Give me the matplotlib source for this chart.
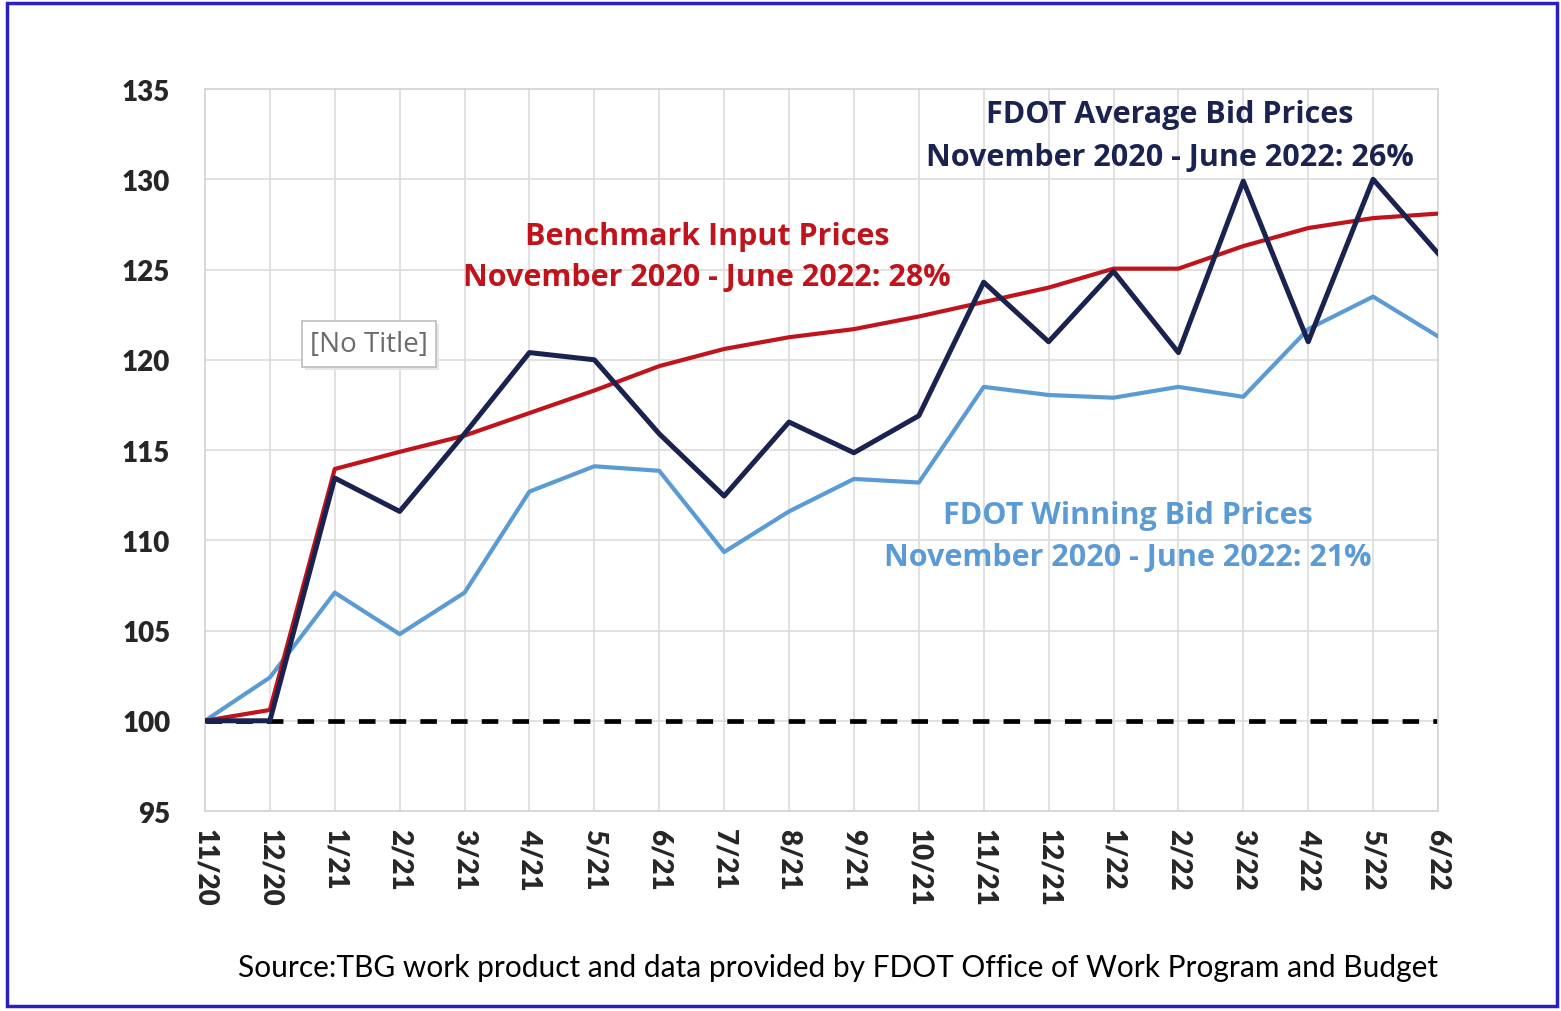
import matplotlib
matplotlib.use("Agg")
import matplotlib.pyplot as plt
from matplotlib.patches import Rectangle

months = ["11/20", "12/20", "1/21", "2/21", "3/21", "4/21", "5/21", "6/21", "7/21", "8/21",
          "9/21", "10/21", "11/21", "12/21", "1/22", "2/22", "3/22", "4/22", "5/22", "6/22"]
avg_bid = [100, 100, 113.45, 111.6, 115.9, 120.4, 120.0, 115.9, 112.45, 116.55,
           114.85, 116.9, 124.3, 121.0, 124.9, 120.4, 129.9, 121.0, 130.0, 125.9]
benchmark = [100, 100.6, 113.95, 114.9, 115.8, 117.05, 118.3, 119.65, 120.6, 121.25,
             121.7, 122.4, 123.2, 124.0, 125.05, 125.05, 126.3, 127.3, 127.85, 128.1]
winning_bid = [100, 102.4, 107.1, 104.8, 107.1, 112.7, 114.1, 113.85, 109.35, 111.6,
               113.4, 113.2, 118.5, 118.05, 117.9, 118.5, 117.95, 121.7, 123.5, 121.3]
baseline = [100] * len(months)
yticks = [95, 100, 105, 110, 115, 120, 125, 130, 135]

NAVY = "#1a2350"
RED = "#c0131b"
LBLUE = "#5b9bd5"

plt.rcParams['font.family'] = ['Lato', 'DejaVu Sans']

fig = plt.figure(figsize=(15.61, 10.12), dpi=100)
ax = fig.add_axes([0.1313, 0.1976, 0.7899, 0.7134])
x = list(range(len(months)))

ax.plot(x, baseline, color="black", lw=3.4, ls=(0, (3.5, 3.0)), zorder=2)
ax.plot(x, winning_bid, color=LBLUE, lw=3.0, zorder=3)
ax.plot(x, benchmark, color=RED, lw=3.0, zorder=4)
ax.plot(x, avg_bid, color=NAVY, lw=3.6, zorder=5)

ax.set_xlim(0, len(months) - 1)
ax.set_ylim(95, 135)
ax.set_yticks(yticks)
ax.set_yticklabels([str(v) for v in yticks], fontsize=20, fontweight="heavy", color="#262626")
ax.set_xticks(x)
ax.set_xticklabels(months, rotation=270, fontsize=20, fontweight="heavy", color="#262626")
ax.tick_params(length=0, pad=12)
ax.tick_params(axis="y", pad=25)
ax.grid(True, color="#dcdcdc", lw=1.2)
ax.set_axisbelow(True)
for s in ax.spines.values():
    s.set_color("#d4d4d4")
    s.set_linewidth(1.2)

tf = dict(ha="center", va="center", fontsize=22, fontweight="bold", family=["Open Sans", "DejaVu Sans"])
fig.text(1170 / 1561, 1 - 115 / 1012, "FDOT Average Bid Prices", color=NAVY, **tf)
fig.text(1170 / 1561, 1 - 158 / 1012, "November 2020 - June 2022: 26%", color=NAVY, **tf)
fig.text(707 / 1561, 1 - 237 / 1012, "Benchmark Input Prices", color=RED, **tf)
fig.text(707 / 1561, 1 - 278 / 1012, "November 2020 - June 2022: 28%", color=RED, **tf)
fig.text(1128 / 1561, 1 - 516 / 1012, "FDOT Winning Bid Prices", color=LBLUE, **tf)
fig.text(1128 / 1561, 1 - 558 / 1012, "November 2020 - June 2022: 21%", color=LBLUE, **tf)

# [No Title] box
fig.patches.append(Rectangle((305 / 1561, 1 - 371 / 1012), 134 / 1561, 46 / 1012,
                             transform=fig.transFigure, facecolor="#e6e6e6", edgecolor="none", zorder=6))
fig.patches.append(Rectangle((302 / 1561, 1 - 368 / 1012), 134 / 1561, 46 / 1012,
                             transform=fig.transFigure, facecolor="white", edgecolor="#bdbdbd", lw=1.2, zorder=7))
fig.text(369 / 1561, 1 - 345 / 1012, "[No Title]", ha="center", va="center", fontsize=20,
         color="#6b6b6b", family=["Open Sans", "DejaVu Sans"], zorder=8)

fig.text(838 / 1561, 1 - 968 / 1012,
         "Source:TBG work product and data provided by FDOT Office of Work Program and Budget",
         ha="center", va="center", fontsize=21.5, color="black")

# outer blue border
fig.patches.append(Rectangle((7 / 1561, 5 / 1012), 1550 / 1561, 1003 / 1012,
                             transform=fig.transFigure, facecolor="none", edgecolor="#2a1fbf", lw=2.5, zorder=10))

fig.savefig("out.png", dpi=100, facecolor="white")
